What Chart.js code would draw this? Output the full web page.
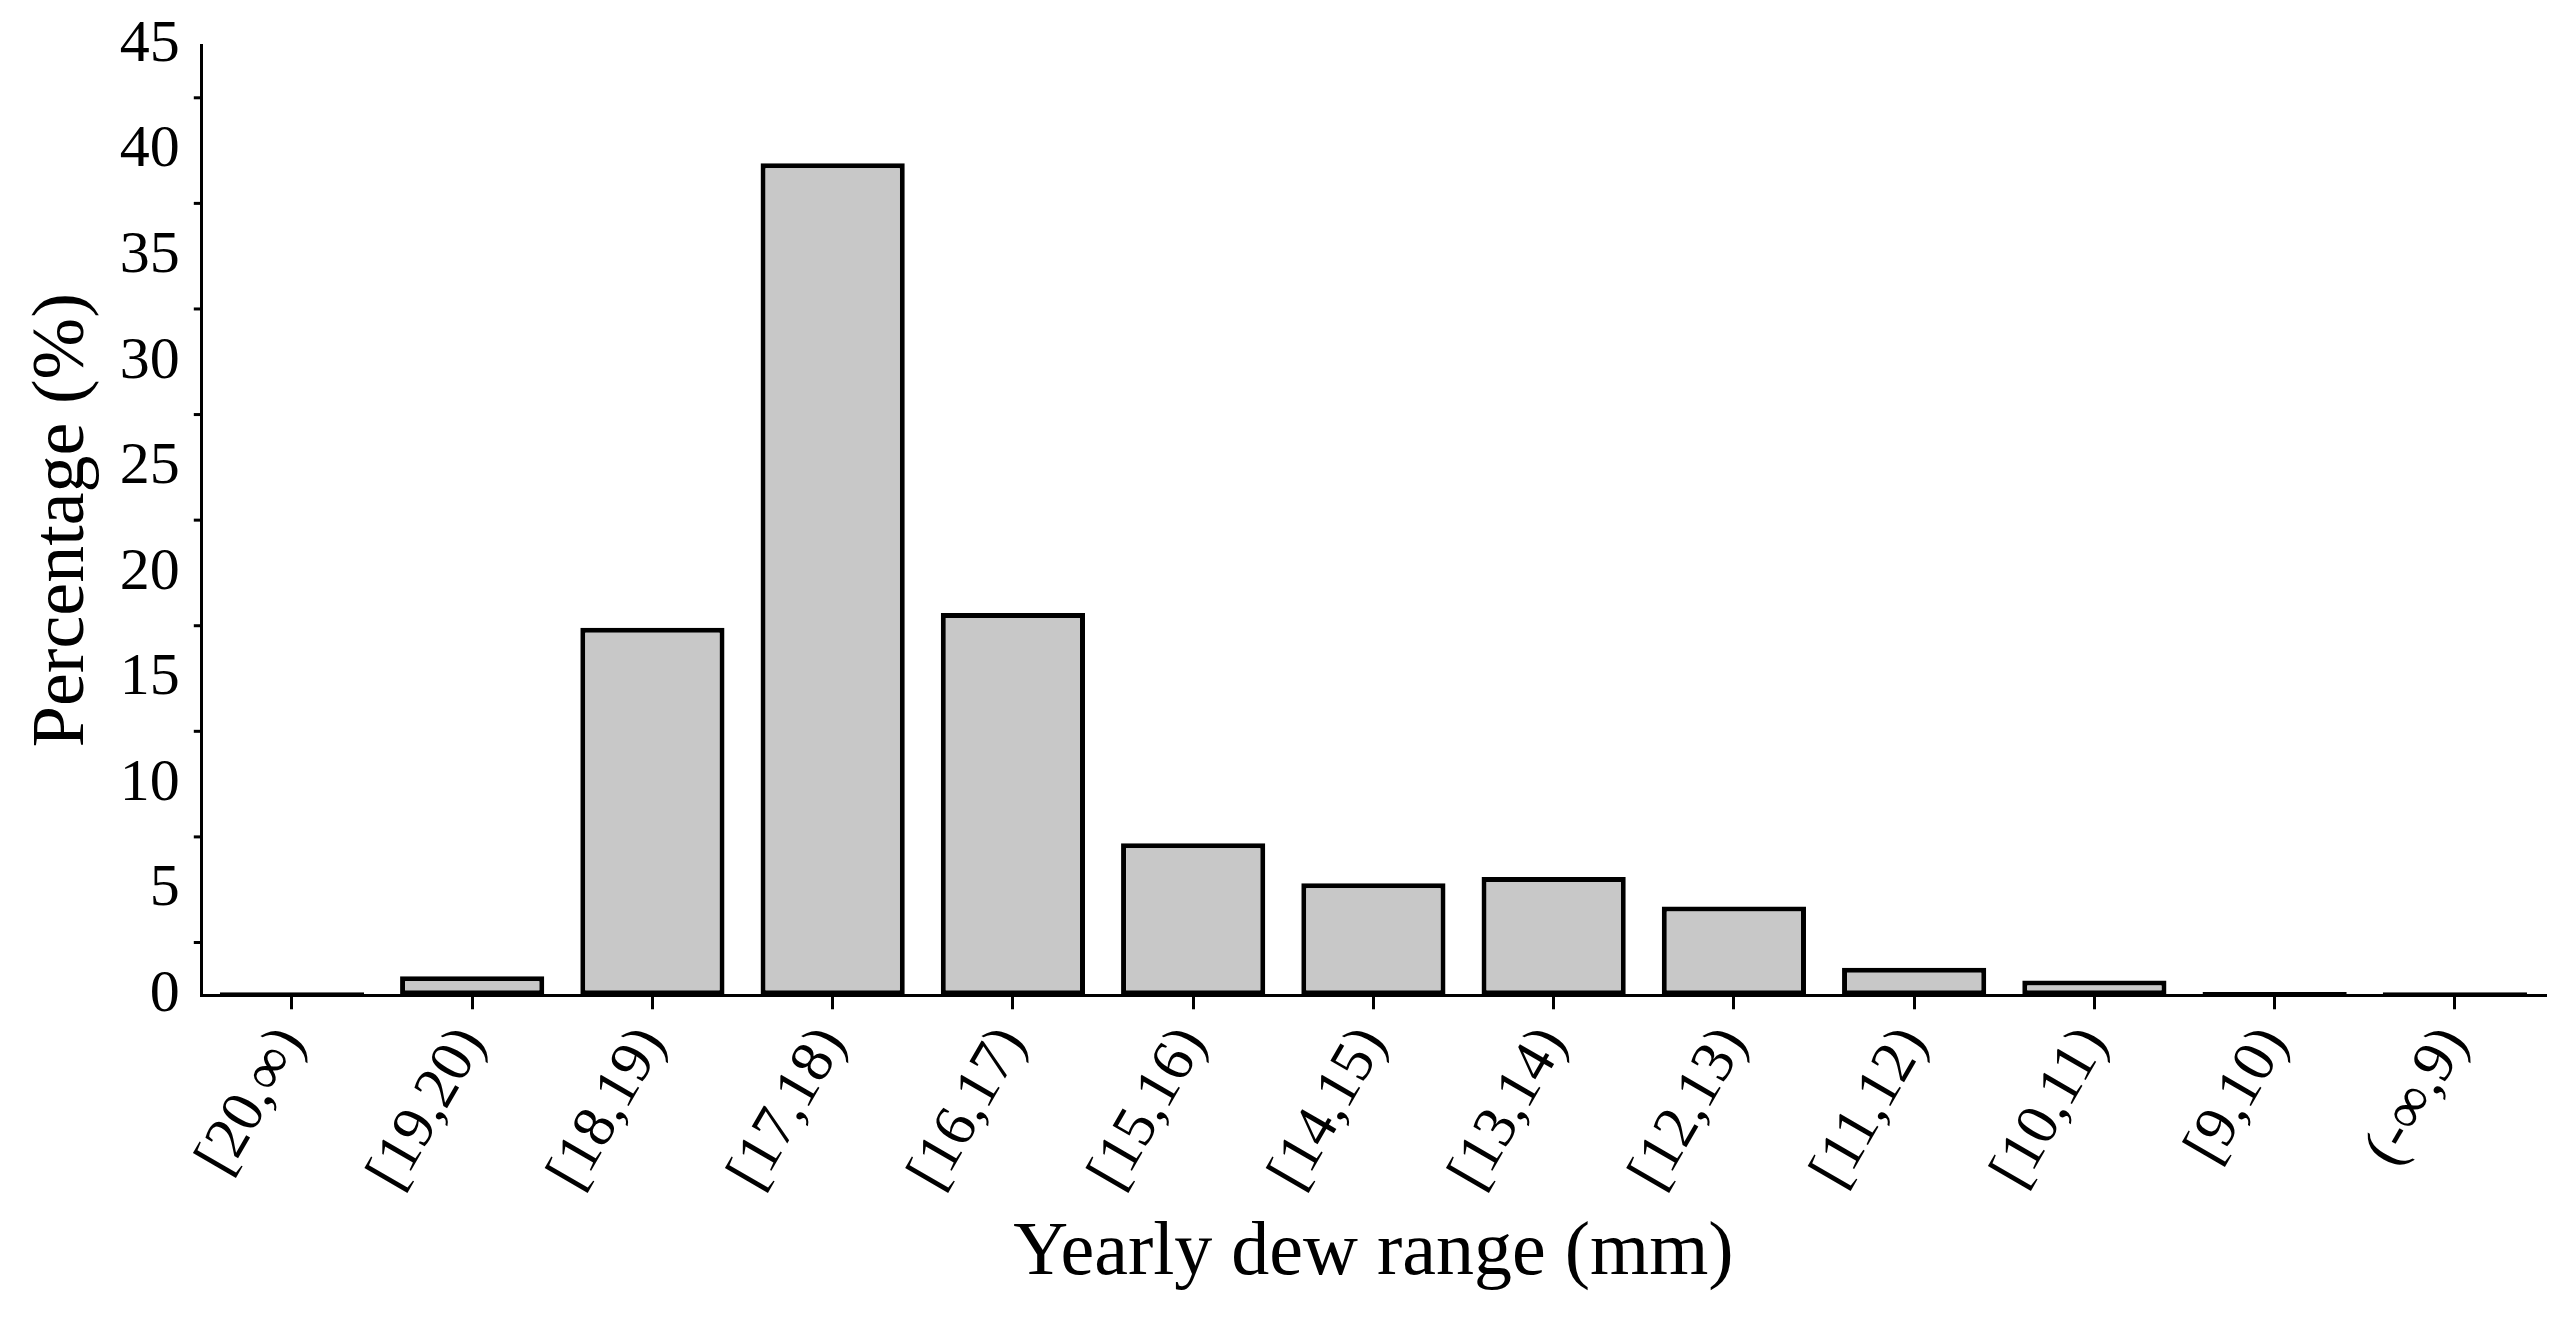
<!DOCTYPE html>
<html>
<head>
<meta charset="utf-8">
<script src="https://cdn.jsdelivr.net/npm/chart.js@4"></script>
<style>
  html, body { margin: 0; padding: 0; background: #fff; }
  #wrap { width: 2575px; height: 1339px; }
</style>
</head>
<body>
<div id="wrap"><canvas id="c"></canvas></div>
<script>
// Données
const categories = ['[20,\u221E)', '[19,20)', '[18,19)', '[17,18)', '[16,17)', '[15,16)', '[14,15)',
    '[13,14)', '[12,13)', '[11,12)', '[10,11)', '[9,10)', '(-\u221E,9)'];
const percentages = [0.05, 0.9, 17.4, 39.4, 18.1, 7.2, 5.3, 5.6, 4.2, 1.3, 0.7, 0.15, 0.05];
const yTicks = [0, 5, 10, 15, 20, 25, 30, 35, 40, 45];

const FONT = 'Liberation Serif';

// petites graduations sur l'axe y, à mi-chemin
const minorTicks = {
    id: 'minorTicks',
    afterDraw(chart) {
        const y = chart.scales.y;
        const ctx = chart.ctx;
        ctx.save();
        ctx.strokeStyle = '#000';
        ctx.lineWidth = 3;
        for (let i = 0; i < yTicks.length - 1; i++) {
            const py = y.getPixelForValue((yTicks[i] + yTicks[i + 1]) / 2);
            ctx.beginPath();
            ctx.moveTo(y.left + y.width, py);
            ctx.lineTo(y.left + y.width - 8, py);
            ctx.stroke();
        }
        ctx.restore();
    }
};

new Chart(document.getElementById('c').getContext('2d'), {
    type: 'bar',
    data: {
        labels: categories,
        datasets: [{
            data: percentages,
            backgroundColor: '#c8c8c8',
            borderColor: '#000',
            borderWidth: 5,
            borderSkipped: false,
            minBarLength: 3,
            barPercentage: 0.8,
            categoryPercentage: 1.0
        }]
    },
    options: {
        responsive: true,
        maintainAspectRatio: false,
        animation: false,
        layout: { padding: { top: 45, right: 30, left: 15, bottom: 35 } },
        plugins: { legend: { display: false }, tooltip: { enabled: false } },
        scales: {
            y: {
                min: 0, max: 45,
                afterBuildTicks: s => { s.ticks = yTicks.map(v => ({ value: v })); },
                border: { color: '#000', width: 3 },
                grid: { display: false, drawOnChartArea: false, drawTicks: true, tickLength: 14, color: '#000', lineWidth: 3 },
                ticks: { color: '#000', font: { family: FONT, size: 60 }, padding: 8 },
                title: { display: true, text: 'Percentage (%)', color: '#000', font: { family: FONT, size: 74 } }
            },
            x: {
                border: { color: '#000', width: 3 },
                grid: { drawOnChartArea: false, drawTicks: true, tickLength: 14, color: '#000', lineWidth: 3, offset: false },
                ticks: { color: '#000', font: { family: FONT, size: 60 }, maxRotation: 60, minRotation: 60, padding: 6 },
                title: { display: true, text: 'Yearly dew range (mm)', color: '#000', font: { family: FONT, size: 76 }, padding: { top: 0 } }
            }
        }
    },
    plugins: [minorTicks]
});
</script>
</body>
</html>
